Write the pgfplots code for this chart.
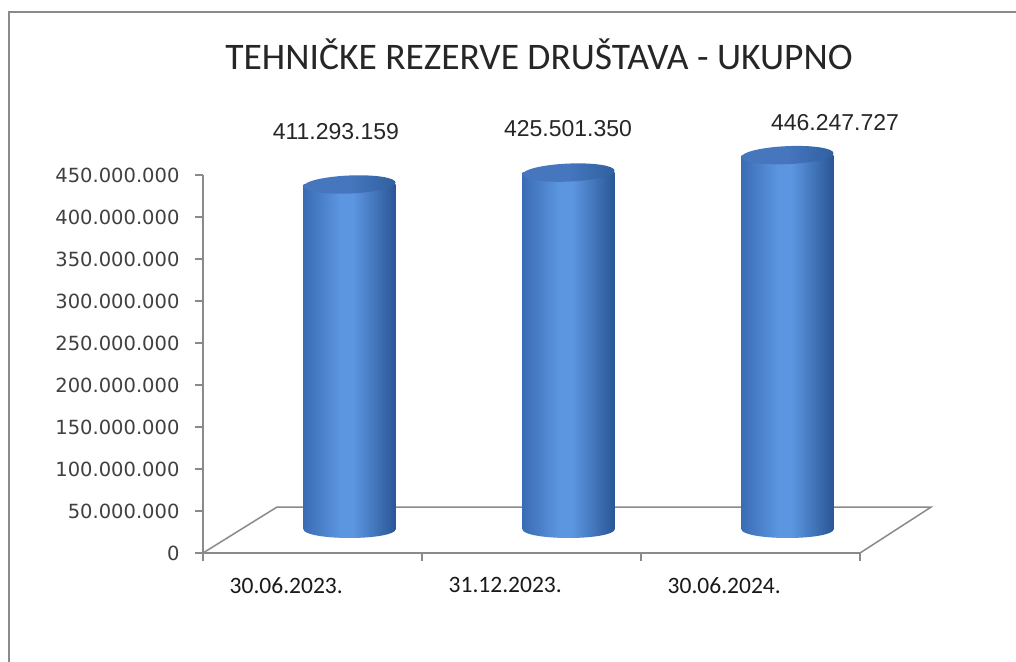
\documentclass[border=0pt]{standalone}
\usepackage{pgfplots}
\pgfplotsset{compat=1.18}
\usepackage{fontspec}
\setmainfont{Carlito}
\newfontfamily\dejavu{DejaVu Sans}
\newfontfamily\arial{Liberation Sans}
\definecolor{axisgray}{HTML}{8A8A8A}
\definecolor{cylL}{HTML}{3A6CB4}
\definecolor{cylM}{HTML}{5C96E0}
\definecolor{cylR}{HTML}{2A5696}
\definecolor{topL}{HTML}{4576BE}
\definecolor{topR}{HTML}{30609F}
\pgfdeclarehorizontalshading{cylshade}{100bp}{color(0bp)=(cylL); color(25bp)=(cylL); color(45bp)=(cylM); color(52bp)=(cylM); color(75bp)=(cylR); color(100bp)=(cylR)}
\pgfdeclarehorizontalshading{topshade}{100bp}{color(0bp)=(topL); color(25bp)=(topL); color(50bp)=(topL); color(75bp)=(topR); color(100bp)=(topR)}
\pgfdeclareplotmark{cylbottom}{%
  \pgfpathmoveto{\pgfpoint{-46pt}{0.5pt}}%
  \pgfpatharc{180}{360}{46pt and 8.5pt}%
  \pgfpathlineto{\pgfpoint{46pt}{0.5pt}}%
  \pgfpathclose
  \pgfshadepath{cylshade}{0}\pgfusepath{}}
\pgfdeclareplotmark{cyltop}{%
  \pgfpathellipse{\pgfpointorigin}{\pgfpoint{46pt}{2pt}}{\pgfpoint{-0.4pt}{9pt}}%
  \pgfshadepath{topshade}{0}\pgfusepath{}}
\pgfplotsset{cyl/.style={ybar, bar width=92pt, draw=none, shade, shading=cylshade, shading angle=0}}
\begin{document}
\begin{tikzpicture}
\path[use as bounding box] (0pt,0pt) rectangle (1016pt,661pt);
\fill[white] (0pt,0pt) rectangle (1016pt,661pt);
\draw[axisgray, line width=2pt] (9pt,-5pt) -- (9pt,649pt) -- (1030pt,649pt);
\node[font=\fontsize{37.5}{37.5}\selectfont, text=black!85, anchor=base] at (539pt,591pt) {TEHNIČKE REZERVE DRUŠTAVA - UKUPNO};
\begin{axis}[
  at={(203pt,108pt)}, anchor=south west, scale only axis,
  width=657pt, height=378pt,
  xmin=0, xmax=3, ymin=0, ymax=450000000,
  axis lines*=left,
  axis line style={axisgray, line width=1.5pt},
  tick style={axisgray, line width=1.5pt},
  tick align=outside, major tick length=8pt,
  xtick={0,1,2,3}, xticklabels={},
  extra x ticks={0.38,1.38,2.38},
  extra x tick labels={30.06.2023.,31.12.2023.,30.06.2024.},
  extra x tick style={major tick length=0pt, tick style={draw=none},
    xticklabel style={font=\fontsize{23.5}{23.5}\selectfont, text=black!90, yshift=-21pt}},
  ytick={0,50000000,100000000,150000000,200000000,250000000,300000000,350000000,400000000,450000000},
  scaled y ticks=false,
  yticklabel style={font=\dejavu\fontsize{19.5}{19.5}\selectfont, text=black!75, xshift=-12pt,
    /pgf/number format/.cd, fixed, precision=0, 1000 sep={.}, assume math mode=true},
  clip=false]
\addplot[axisgray, line width=1.5pt] coordinates {(0,0) (0.338,54760000) (3.325,54760000) (3,0)};
\end{axis}
\begin{axis}[
  at={(240pt,131pt)}, anchor=south west, scale only axis,
  width=657pt, height=378pt,
  xmin=0, xmax=3, ymin=0, ymax=450000000,
  hide axis, clip=false]
\addplot[only marks, mark=cylbottom] coordinates {(0.5,0) (1.5,0) (2.5,0)};
\addplot[cyl] coordinates {(0.5,411293159)};
\addplot[cyl] coordinates {(1.5,425501350)};
\addplot[cyl] coordinates {(2.5,446247727)};
\addplot[only marks, mark=cyltop] coordinates {(0.5,411293159) (1.5,425501350) (2.5,446247727)};
\node[font=\arial\fontsize{23}{23}\selectfont, text=black!85, anchor=base] at (axis cs:0.438,464300000) {411.293.159};
\node[font=\arial\fontsize{23}{23}\selectfont, text=black!85, anchor=base] at (axis cs:1.498,469000000) {425.501.350};
\node[font=\arial\fontsize{23}{23}\selectfont, text=black!85, anchor=base] at (axis cs:2.717,475000000) {446.247.727};
\end{axis}
\end{tikzpicture}
\end{document}
